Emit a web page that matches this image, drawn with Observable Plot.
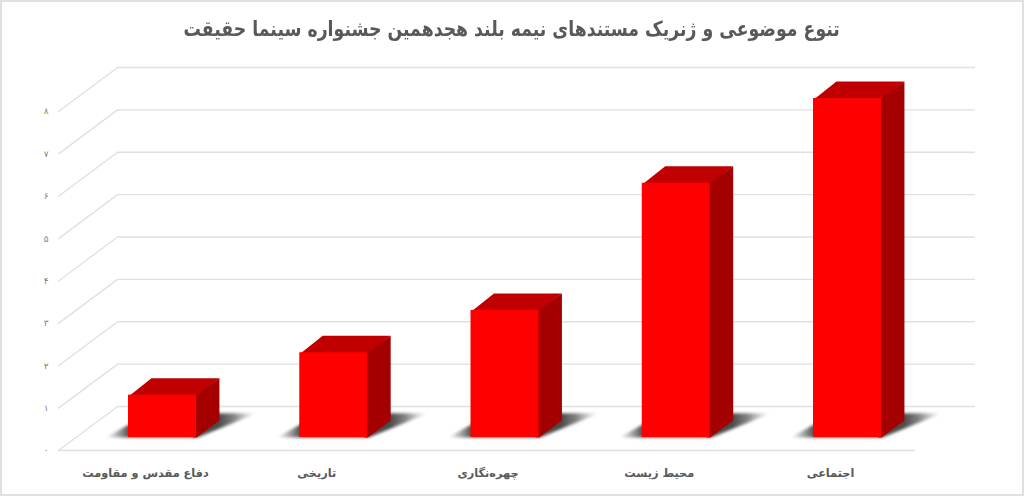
<!DOCTYPE html>
<html lang="fa">
<head>
<meta charset="utf-8">
<script src="https://cdn.jsdelivr.net/npm/d3@7"></script>
<script src="https://cdn.jsdelivr.net/npm/@observablehq/plot@0.6"></script>
<style>
html,body{margin:0;padding:0;background:#fff;overflow:hidden}
#wrap{position:relative;width:1024px;height:496px;font-family:"DejaVu Sans",sans-serif}
#title{height:58px;line-height:58px;text-align:center;color:#595959;white-space:nowrap}
#title span{display:inline-block;font-size:21px;font-weight:700;direction:rtl;transform:scaleX(0.823)}
#border{position:absolute;inset:0;border:2px solid #e0e0e0;box-sizing:border-box;pointer-events:none}
svg{display:block}
</style>
</head>
<body>
<div id="wrap">
<div id="title"><span>تنوع موضوعی و ژنریک مستندهای نیمه بلند هجدهمین جشنواره سینما حقیقت</span></div>
<div id="chart"></div>
<div id="border"></div>
</div>
<script>
const categories = ["دفاع مقدس و مقاومت", "تاریخی", "چهره‌نگاری", "محیط زیست", "اجتماعی"];
const values = [1, 2, 3, 6, 8];
const gridTicks = [0, 1, 2, 3, 4, 5, 6, 7, 8];
const tickLabels = ["۰", "۱", "۲", "۳", "۴", "۵", "۶", "۷", "۸"];

// 3D projection constants, in data units
const wallLeft = -0.607, wallRight = 4.397, wallDX = 0.3445, wallDY = 1.038;
const barHalf = 0.1985, barDX = 0.134, barDY = 0.4, barBase = 0.3066;

const bars = values.map((v, i) => ({i, v, name: categories[i]}));
const poly = (name, pts) => pts.map(([x, y]) => ({name, x, y}));

const wall = gridTicks.flatMap(t => poly(t, [
  [wallLeft, t], [wallLeft + wallDX, t + wallDY], [wallRight + wallDX, t + wallDY]
]));
const shadows = bars.flatMap(b => poly(b.i, [
  [b.i - 0.333, barBase], [b.i + 0.205, barBase],
  [b.i + 0.55, barBase + 0.57], [b.i - 0.076, barBase + 0.57]
]));
const tops = bars.flatMap(b => poly(b.i, [
  [b.i - barHalf, b.v + barBase - 0.03], [b.i + barHalf, b.v + barBase - 0.03],
  [b.i + barHalf + barDX, b.v + barBase + barDY], [b.i - barHalf + barDX, b.v + barBase + barDY]
]));
const sides = bars.flatMap(b => poly(b.i, [
  [b.i + barHalf - 0.02, barBase], [b.i + barHalf, barBase], [b.i + barHalf + barDX, barBase + barDY],
  [b.i + barHalf + barDX, b.v + barBase + barDY], [b.i + barHalf, b.v + barBase], [b.i + barHalf - 0.02, b.v + barBase]
]));

const defs = () => {
  const s = d3.create("svg:defs");
  const g = s.append("linearGradient").attr("id", "floorShadow").attr("x1", 0).attr("x2", 1).attr("y1", 0).attr("y2", 0);
  [[0, "#777", 0], [0.15, "#555", 1], [0.75, "#4a4a4a", 1], [0.85, "#777", 0.9], [1, "#aaa", 0]].forEach(([o, c, a]) =>
    g.append("stop").attr("offset", o).attr("stop-color", c).attr("stop-opacity", a));
  return s.node();
};

const chart = Plot.plot({
  width: 1024,
  height: 438,
  marginLeft: 48,
  marginBottom: 28,
  marginTop: 0,
  marginRight: 0,
  x: {type: "linear", domain: [0, 4], range: [162, 847], axis: null},
  y: {type: "linear", domain: [0, 8], range: [392, 53], axis: null},
  marks: [
    defs,
    Plot.line(wall, {x: "x", y: "y", z: "name", stroke: "#e0e0e0", strokeWidth: 1.3, curve: "linear"}),
    Plot.ruleY([0], {x1: wallLeft, x2: wallRight, stroke: "#e0e0e0", strokeWidth: 1.3}),
    Plot.line(shadows, {x: "x", y: "y", z: "name", fill: "url(#floorShadow)", stroke: "none", imageFilter: "blur(1.5px)"}),
    Plot.line(tops, {x: "x", y: "y", z: "name", fill: "#c00000", stroke: "none"}),
    Plot.line(sides, {x: "x", y: "y", z: "name", fill: "#a40000", stroke: "none"}),
    Plot.rect(bars, {
      x1: d => d.i - barHalf, x2: d => d.i + barHalf,
      y1: () => barBase, y2: d => d.v + barBase,
      fill: "#ff0000"
    }),
    Plot.axisY({
      anchor: "left", ticks: gridTicks, tickSize: 0, tickPadding: 0,
      tickFormat: t => tickLabels[t], fontSize: 9, color: "#808080",
      fontFamily: "DejaVu Sans", label: null
    }),
    Plot.axisX({
      anchor: "bottom", ticks: d3.range(categories.length), tickSize: 0, tickPadding: 0,
      tickFormat: i => categories[i], fontSize: 11.3, fontWeight: 700, color: "#595959",
      fontFamily: "DejaVu Sans", dx: -17, label: null
    })
  ]
});
document.getElementById("chart").appendChild(chart);
</script>
</body>
</html>
